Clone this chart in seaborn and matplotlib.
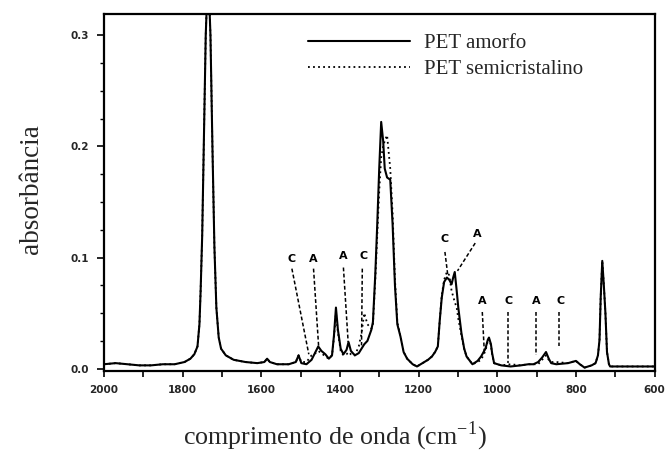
import numpy as np
import pandas as pd
import matplotlib
matplotlib.use("Agg")
import matplotlib.pyplot as plt
from matplotlib.ticker import MultipleLocator, FormatStrFormatter
import seaborn as sns

# ---------------- data ----------------
wavenumber = [2000, 1970, 1940, 1910, 1880, 1850, 1820, 1795, 1780, 1770, 1762, 1757, 1754,
              1750, 1746, 1741, 1735, 1729, 1724, 1719, 1714, 1708, 1702, 1690, 1670, 1640,
              1610, 1592, 1585, 1578, 1560, 1530, 1512, 1505, 1498, 1485, 1472, 1462, 1455,
              1447, 1437, 1428, 1420, 1415, 1410, 1405, 1398, 1391, 1383, 1378, 1372, 1362,
              1352, 1345, 1338, 1330, 1320, 1316, 1310, 1305, 1300, 1295, 1290, 1286, 1280,
              1272, 1266, 1260, 1254, 1246, 1238, 1229, 1215, 1204, 1190, 1176, 1166, 1158,
              1151, 1146, 1141, 1135, 1128, 1122, 1116, 1112, 1108, 1103, 1099, 1091, 1084,
              1078, 1063, 1050, 1041, 1030, 1024, 1021, 1016, 1013, 1008, 990, 966, 940,
              921, 908, 896, 886, 876, 869, 863, 850, 820, 800, 790, 778, 760, 750, 744,
              740, 737, 733, 729, 725, 721, 716, 713, 690, 660, 630, 600]

pet_amorfo = [0.004, 0.005, 0.004, 0.003, 0.003, 0.004, 0.004, 0.006, 0.009, 0.013, 0.020, 0.040, 0.070,
              0.120, 0.200, 0.300, 0.360, 0.300, 0.200, 0.110, 0.055, 0.028, 0.018, 0.012, 0.008, 0.006,
              0.005, 0.006, 0.009, 0.006, 0.004, 0.004, 0.006, 0.012, 0.005, 0.004, 0.008, 0.015, 0.020,
              0.016, 0.013, 0.009, 0.012, 0.030, 0.055, 0.035, 0.018, 0.013, 0.017, 0.024, 0.016, 0.012,
              0.014, 0.018, 0.022, 0.025, 0.035, 0.042, 0.085, 0.130, 0.180, 0.222, 0.205, 0.180, 0.172,
              0.170, 0.130, 0.075, 0.040, 0.029, 0.015, 0.009, 0.004, 0.002, 0.005, 0.008, 0.011, 0.015,
              0.020, 0.044, 0.064, 0.078, 0.082, 0.080, 0.076, 0.082, 0.087, 0.070, 0.055, 0.032, 0.018,
              0.011, 0.004, 0.007, 0.011, 0.018, 0.026, 0.028, 0.022, 0.014, 0.005, 0.003, 0.002, 0.003,
              0.004, 0.004, 0.006, 0.010, 0.015, 0.009, 0.005, 0.004, 0.005, 0.007, 0.004, 0.001, 0.003, 0.005, 0.012,
              0.026, 0.064, 0.097, 0.075, 0.050, 0.015, 0.004, 0.002, 0.002, 0.002, 0.002, 0.002]

pet_semicristalino = [0.004, 0.005, 0.004, 0.003, 0.003, 0.004, 0.004, 0.006, 0.009, 0.013, 0.020, 0.040, 0.070,
                      0.120, 0.200, 0.300, 0.360, 0.300, 0.200, 0.110, 0.055, 0.028, 0.018, 0.012, 0.008, 0.006,
                      0.005, 0.006, 0.009, 0.006, 0.004, 0.004, 0.006, 0.012, 0.006, 0.006, 0.012, 0.014, 0.016,
                      0.014, 0.011, 0.009, 0.012, 0.028, 0.050, 0.033, 0.016, 0.012, 0.013, 0.015, 0.013, 0.012,
                      0.020, 0.032, 0.050, 0.040, 0.036, 0.040, 0.080, 0.120, 0.160, 0.190, 0.200, 0.205, 0.210,
                      0.180, 0.140, 0.080, 0.042, 0.029, 0.015, 0.009, 0.004, 0.002, 0.005, 0.008, 0.011, 0.015,
                      0.020, 0.044, 0.066, 0.080, 0.087, 0.084, 0.070, 0.065, 0.060, 0.055, 0.045, 0.030, 0.018,
                      0.011, 0.004, 0.006, 0.008, 0.016, 0.025, 0.027, 0.021, 0.013, 0.005, 0.003, 0.004, 0.003,
                      0.004, 0.004, 0.004, 0.008, 0.012, 0.008, 0.006, 0.006, 0.005, 0.007, 0.004, 0.001, 0.003, 0.005, 0.012,
                      0.026, 0.064, 0.097, 0.075, 0.050, 0.015, 0.004, 0.002, 0.002, 0.002, 0.002, 0.002]

# band labels: letter, label position, leader line start/end
band_letters = ["C", "A", "A", "C", "C", "A", "A", "C", "A", "C"]
band_text_x = [1522, 1467, 1391, 1341, 1133, 1051, 1038, 971, 901, 840]
band_text_y = [0.099, 0.099, 0.101, 0.101, 0.117, 0.121, 0.061, 0.061, 0.061, 0.061]
band_line_x0 = [1522, 1467, 1391, 1343, 1133, 1056, 1038, 973, 901, 843]
band_line_y0 = [0.090, 0.090, 0.091, 0.090, 0.105, 0.113, 0.051, 0.051, 0.051, 0.051]
band_line_x1 = [1479, 1454, 1379, 1345, 1126, 1101, 1033, 973, 901, 843]
band_line_y1 = [0.013, 0.020, 0.024, 0.021, 0.085, 0.088, 0.016, 0.005, 0.012, 0.020]

x_ticks = [2000, 1800, 1600, 1400, 1200, 1000, 800, 600]
y_ticks = [0.0, 0.1, 0.2, 0.3]
labels = ["PET amorfo", "PET semicristalino"]

# ---------------- plotting ----------------
sns.set_theme(style="ticks")
plt.rcParams["font.family"] = ["Liberation Serif", "DejaVu Serif"]
plt.rcParams["mathtext.fontset"] = "custom"
plt.rcParams["mathtext.rm"] = "Liberation Serif"

fig = plt.figure(figsize=(6.7, 4.54), dpi=100)
ax = fig.add_axes([0.155, 0.183, 0.822, 0.786])

df_a = pd.DataFrame({"wn": wavenumber, "abs": pet_amorfo})
df_s = pd.DataFrame({"wn": wavenumber, "abs": pet_semicristalino})

sns.lineplot(data=df_a, x="wn", y="abs", ax=ax, color="black", lw=1.5,
             estimator=None, sort=False, label=labels[0])
sns.lineplot(data=df_s, x="wn", y="abs", ax=ax, color="black", lw=1.3,
             estimator=None, sort=False, label=labels[1], dashes=False)
ax.lines[1].set_dashes([1.0, 1.8])

for letter, tx, ty, x0, y0, x1, y1 in zip(band_letters, band_text_x, band_text_y,
                                          band_line_x0, band_line_y0, band_line_x1, band_line_y1):
    ax.text(tx, ty, letter, ha="center", va="center", fontsize=8, fontweight="bold",
            family="DejaVu Sans", color="black")
    ax.plot([x0, x1], [y0, y1], color="black", lw=1.1, dashes=[2.5, 1.5])

ax.set_xlim(2000, 600)
ax.set_ylim(-0.002, 0.319)
ax.set_xticks(x_ticks)
ax.xaxis.set_minor_locator(MultipleLocator(100))
ax.set_yticks(y_ticks)
ax.yaxis.set_minor_locator(MultipleLocator(0.025))
ax.yaxis.set_major_formatter(FormatStrFormatter("%.1f"))

for lab in ax.get_xticklabels() + ax.get_yticklabels():
    lab.set_family("DejaVu Sans")
    lab.set_fontweight("bold")
    lab.set_fontsize(7.5)

ax.tick_params(axis="x", which="both", direction="out", length=4, width=1.2, color="black", pad=6)
ax.tick_params(axis="y", which="major", direction="out", length=5, width=1.2, color="black", pad=6)
ax.tick_params(axis="y", which="minor", direction="out", length=3, width=1.0, color="black")

for sp in ax.spines.values():
    sp.set_visible(True)
    sp.set_color("black")
    sp.set_linewidth(1.6)

ax.set_xlabel("comprimento de onda (cm$^{-1}$)", fontsize=18.7)
ax.set_ylabel("absorbância", fontsize=19.5)
ax.xaxis.set_label_coords(0.42, -0.135)
ax.yaxis.set_label_coords(-0.108, 0.51)

ax.legend(loc="upper left", bbox_to_anchor=(0.37, 0.945), frameon=False,
          handlelength=4.9, handletextpad=0.7, labelspacing=0.3,
          borderaxespad=0, borderpad=0, prop={"family": "Liberation Serif", "size": 15})

fig.savefig("out.png", dpi=100)
